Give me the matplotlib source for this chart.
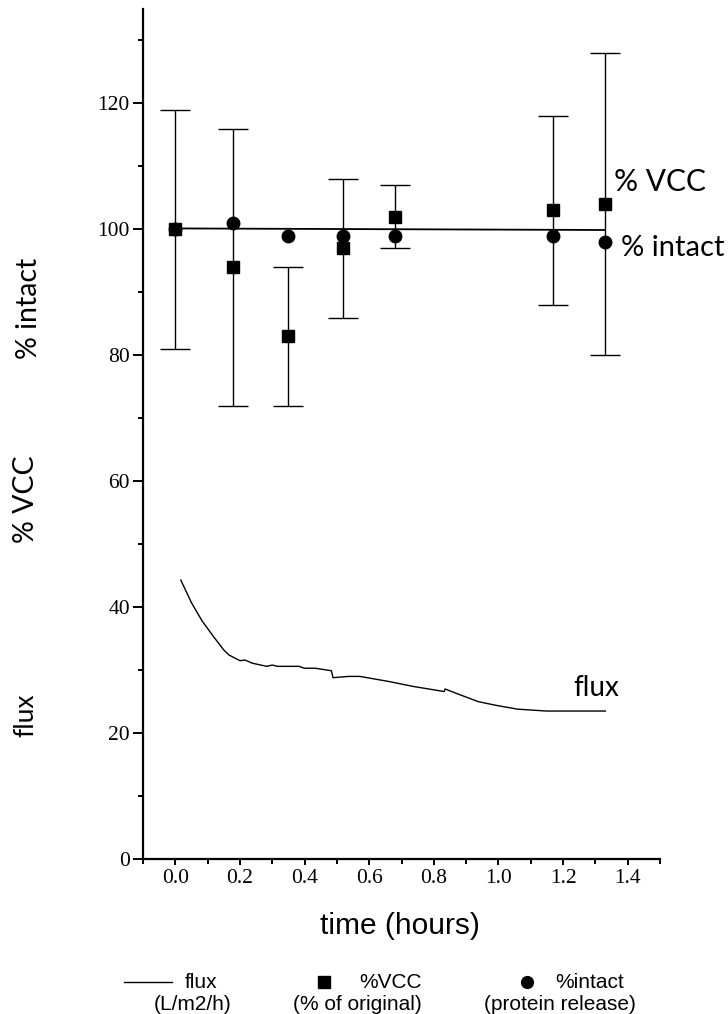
import matplotlib
matplotlib.use("Agg")
import matplotlib.pyplot as plt
from matplotlib.lines import Line2D
from matplotlib.ticker import MultipleLocator, FormatStrFormatter

# ---- data ----
time_pts = [0.0, 0.18, 0.35, 0.52, 0.68, 1.17, 1.33]
vcc = [100.0, 94.0, 83.0, 97.0, 102.0, 103.0, 104.0]
vcc_err = [19.0, 22.0, 11.0, 11.0, 5.0, 15.0, 24.0]
intact = [100.0, 101.0, 99.0, 99.0, 99.0, 99.0, 98.0]

fit_t = [0.0, 1.33]
fit_y = [100.15, 99.9]

flux_t = [0.017, 0.050, 0.083, 0.120, 0.150, 0.166, 0.200, 0.216, 0.238, 0.283,
          0.300, 0.316, 0.383, 0.399, 0.433, 0.483, 0.488, 0.538, 0.571, 0.660,
          0.737, 0.832, 0.835, 0.870, 0.937, 0.993, 1.059, 1.148, 1.250, 1.331]
flux = [44.3, 40.7, 37.8, 35.2, 33.2, 32.4, 31.5, 31.6, 31.1, 30.6,
        30.8, 30.6, 30.6, 30.3, 30.3, 29.9, 28.8, 29.0, 29.0, 28.2,
        27.4, 26.6, 27.0, 26.3, 25.0, 24.4, 23.8, 23.5, 23.5, 23.5]

x_ticks = [0.0, 0.2, 0.4, 0.6, 0.8, 1.0, 1.2, 1.4]
y_ticks = [0, 20, 40, 60, 80, 100, 120]

narrow = ["Liberation Sans Narrow", "Liberation Sans", "DejaVu Sans"]
serif = ["Liberation Serif", "DejaVu Serif"]
round_sans = ["Lato", "DejaVu Sans"]

W, H = 728, 1014
fig = plt.figure(figsize=(W / 100, H / 100), dpi=100)
ax = fig.add_axes([143 / W, 1 - 859 / H, (660 - 143) / W, (859 - 9) / H])

# flux trace
ax.plot(flux_t, flux, color="black", lw=1.0)

# straight reference line through the % values
ax.plot(fit_t, fit_y, color="black", lw=1.3)

# % VCC with error bars
ax.errorbar(time_pts, vcc, yerr=vcc_err, fmt="s", color="black", ms=8,
            ecolor="black", elinewidth=1.0, capsize=10.5, capthick=1.0, zorder=3)
# % intact
ax.plot(time_pts, intact, "o", color="black", ms=9, zorder=4)

ax.set_xlim(-0.1, 1.5)
ax.set_ylim(0, 135)
ax.set_xticks(x_ticks)
ax.set_yticks(y_ticks)
ax.xaxis.set_major_formatter(FormatStrFormatter("%.1f"))
ax.xaxis.set_minor_locator(MultipleLocator(0.1))
ax.yaxis.set_minor_locator(MultipleLocator(10))
for s in ("top", "right"):
    ax.spines[s].set_visible(False)
for s in ("left", "bottom"):
    ax.spines[s].set_linewidth(1.6)
ax.tick_params(axis="y", which="major", direction="out", length=7.5, width=1.4, pad=2)
ax.tick_params(axis="y", which="minor", direction="out", length=3.8, width=1.4)
ax.tick_params(axis="x", which="major", direction="out", length=4.5, width=1.4, pad=3)
ax.tick_params(axis="x", which="minor", direction="out", length=3.5, width=1.4)
for lab in ax.get_xticklabels() + ax.get_yticklabels():
    lab.set_fontfamily(serif)
    lab.set_fontsize(15.5)

# in-plot labels
ax.text(1.358, 107.5, "% VCC", family=round_sans, fontsize=21.5, va="center", ha="left")
ax.text(1.379, 97.0, "% intact", family=round_sans, fontsize=21, va="center", ha="left")
ax.text(1.231, 27.2, "flux", family=round_sans, fontsize=20, va="center", ha="left")

# stacked y-axis captions
fig.text(0.040, 1 - 308 / H, "% intact", rotation=90, family=round_sans,
         fontsize=20.5, ha="center", va="center")
fig.text(0.036, 1 - 499 / H, "% VCC", rotation=90, family=round_sans,
         fontsize=20.5, ha="center", va="center")
fig.text(0.036, 1 - 715 / H, "flux", rotation=90, family=round_sans,
         fontsize=19, ha="center", va="center")

# x-axis caption
fig.text(400 / W, 1 - 926 / H, "time (hours)", family=narrow, fontsize=21.5,
         ha="center", va="center")

# key below the plot
y1 = 1 - 982 / H
y2 = 1 - 1004 / H
fs = 15
fig.add_artist(Line2D([124 / W, 172 / W], [y1, y1], color="black", lw=1.0))
fig.text(185 / W, y1, "flux", family=narrow, fontsize=fs, ha="left", va="center")
fig.text(193 / W, y2, "(L/m2/h)", family=narrow, fontsize=fs, ha="center", va="center")
fig.add_artist(Line2D([324 / W], [y1], marker="s", color="black", ms=8, lw=0))
fig.text(390 / W, y1, "%VCC", family=narrow, fontsize=fs, ha="center", va="center")
fig.text(357 / W, y2, "(% of original)", family=narrow, fontsize=fs, ha="center", va="center")
fig.add_artist(Line2D([527 / W], [y1], marker="o", color="black", ms=8.5, lw=0))
fig.text(590 / W, y1, "%intact", family=narrow, fontsize=fs, ha="center", va="center")
fig.text(560 / W, y2, "(protein release)", family=narrow, fontsize=fs, ha="center", va="center")

fig.savefig("out.png", dpi=100)
